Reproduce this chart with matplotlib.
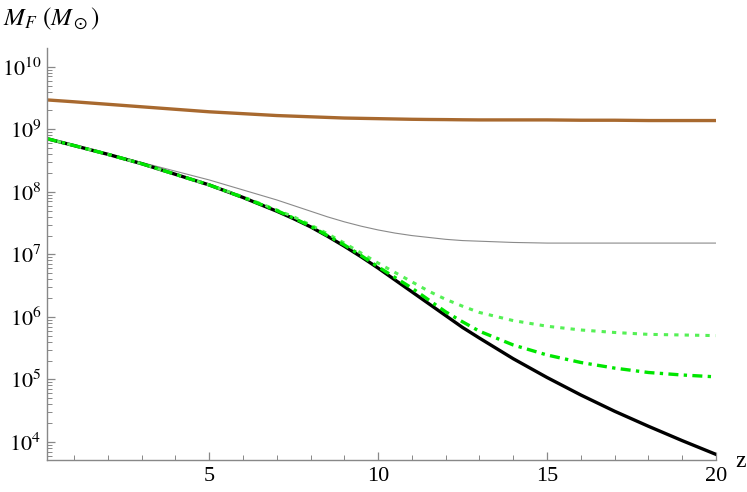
import numpy as np
import matplotlib
matplotlib.use('Agg')
import matplotlib.pyplot as plt
import matplotlib.ticker as mtick

# valeurs (log10 de M_F en masses solaires)
z = [0.2, 1, 2, 3, 4, 5, 6, 7, 7.5, 8, 8.5, 9, 9.5, 10, 10.5, 11, 11.5, 12, 12.5, 13,
     14, 15, 16, 17, 18, 19, 20]
logM_brown = [9.47, 9.44, 9.40, 9.36, 9.32, 9.28, 9.25, 9.22, 9.21, 9.20, 9.19, 9.18, 9.175,
              9.17, 9.165, 9.16, 9.157, 9.155, 9.152, 9.15,
              9.15, 9.15, 9.145, 9.145, 9.14, 9.14, 9.14]
logM_gray = [8.85, 8.74, 8.61, 8.47, 8.33, 8.19, 8.03, 7.87, 7.78, 7.69, 7.60, 7.52, 7.45,
             7.39, 7.34, 7.30, 7.27, 7.24, 7.22, 7.21,
             7.19, 7.18, 7.18, 7.18, 7.18, 7.18, 7.18]
logM_black = [8.85, 8.74, 8.60, 8.45, 8.28, 8.11, 7.91, 7.69, 7.57, 7.44, 7.29, 7.13, 6.96,
              6.78, 6.59, 6.40, 6.21, 6.02, 5.83, 5.66,
              5.33, 5.03, 4.75, 4.49, 4.25, 4.02, 3.80]
logM_dot = [8.85, 8.74, 8.60, 8.45, 8.28, 8.11, 7.92, 7.71, 7.60, 7.47, 7.33, 7.18, 7.02,
            6.86, 6.71, 6.56, 6.41, 6.28, 6.17, 6.07,
            5.94, 5.85, 5.79, 5.75, 5.72, 5.71, 5.70]
logM_dashdot = [8.85, 8.74, 8.60, 8.45, 8.28, 8.11, 7.91, 7.70, 7.58, 7.45, 7.30, 7.15, 6.98,
                6.80, 6.63, 6.46, 6.27, 6.08, 5.92, 5.77,
                5.55, 5.39, 5.27, 5.18, 5.11, 5.07, 5.04]

plt.rcParams['font.family'] = ['Liberation Serif', 'DejaVu Serif']
plt.rcParams['mathtext.fontset'] = 'stix'

fig = plt.figure(figsize=(7.47, 4.92), dpi=100)
ax = fig.add_axes([0.0629, 0.065, 0.8956, 0.8374])

ax.plot(z, 10**np.array(logM_gray), color='#8a8a8a', lw=0.8)
ax.plot(z, 10**np.array(logM_brown), color='#a8692f', lw=2.4)
ax.plot(z, 10**np.array(logM_black), color='black', lw=2.4)
ax.plot(z, 10**np.array(logM_dot), color='#55f055', lw=2.2, dashes=(1.4, 2.0))
ax.plot(z, 10**np.array(logM_dashdot), color='#00e600', lw=2.4, dashes=(3.0, 1.6, 1.0, 1.6))

ax.set_yscale('log')
ax.set_xlim(0.2, 20)
ax.set_ylim(10**3.71, 10**10.3)

# axes style mathematica
for s in ['top', 'right']:
    ax.spines[s].set_visible(False)
for s in ['left', 'bottom']:
    ax.spines[s].set_color('#888888')
    ax.spines[s].set_linewidth(1.0)

ax.xaxis.set_major_locator(mtick.FixedLocator([5, 10, 15, 20]))
ax.xaxis.set_minor_locator(mtick.FixedLocator([i for i in range(1, 20) if i % 5]))
ax.yaxis.set_major_locator(mtick.FixedLocator([10.0**k for k in range(4, 11)]))
ax.yaxis.set_minor_locator(mtick.FixedLocator([m * 10.0**k for k in range(3, 11) for m in range(2, 10)
                                               if 10**3.71 < m * 10.0**k < 10**10.3]))
ax.yaxis.set_minor_formatter(mtick.NullFormatter())
ax.yaxis.set_major_formatter(mtick.FuncFormatter(lambda v, p: r'$10^{%d}$' % round(np.log10(v))))

ax.tick_params(which='both', direction='in', colors='#888888', labelcolor='black', labelsize=16)
ax.tick_params(which='major', length=6, width=0.9)
ax.tick_params(which='minor', length=3.5, width=0.7)
ax.tick_params(axis='x', pad=5)
ax.tick_params(axis='y', pad=4)

fig.text(0.004, 0.962, r'$M_F\ (M_\odot)$', fontsize=18, ha='left', va='center')
fig.text(0.991, 0.062, 'z', fontsize=17, ha='center', va='center')

plt.savefig('out.png', dpi=100)
